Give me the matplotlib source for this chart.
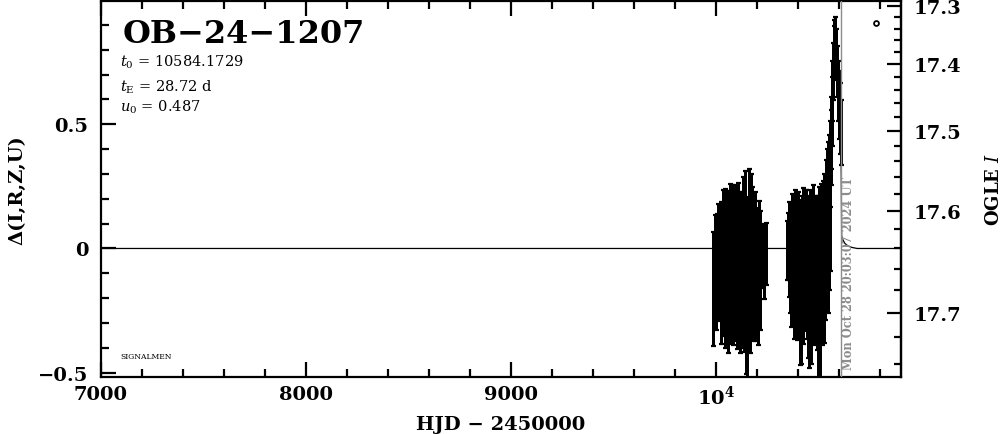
import numpy as np
import matplotlib
matplotlib.use("Agg")
import matplotlib.pyplot as plt
from matplotlib.ticker import MultipleLocator, FixedLocator, FixedFormatter

plt.rcParams['font.family'] = 'DejaVu Serif'
plt.rcParams['mathtext.fontset'] = 'dejavuserif'

# event info printed on the chart
EVENT = "OB\u221224\u22121207"
T0 = 10584.1729
TE = 28.72
U0 = 0.487
NOW_HJD = 10612.3
NOW_TEXT = "Mon Oct 28 20:03:07 2024 UT"

# baseline magnitude and blend fraction (from the two y scales)
BASE_MAG = 17.64
FS = 0.253

# OGLE I photometry, 2023 season
hjd_2023 = [9988.9, 9994.8, 10001.7, 10006.6, 10012.8, 10016.7, 10019.6, 10023.8, 10027.7, 10030.6,
            10033.8, 10036.7, 10040.6, 10043.8, 10046.7, 10049.6, 10052.8, 10055.7, 10058.6, 10061.8,
            10064.7, 10067.6, 10070.8, 10073.7, 10076.6, 10079.8, 10082.7, 10085.6, 10088.8, 10091.7,
            10094.6, 10097.8, 10100.7, 10103.6, 10106.8, 10109.7, 10112.6, 10115.8, 10118.7, 10121.6,
            10124.8, 10127.7, 10130.6, 10133.8, 10136.7, 10139.6, 10142.8, 10145.7, 10148.6, 10151.8,
            10154.7, 10157.6, 10160.8, 10163.7, 10166.6, 10169.8, 10172.7, 10175.6, 10178.8, 10181.7,
            10184.6, 10187.8, 10191.7, 10195.6, 10199.8, 10204.7, 10209.6, 10214.8, 10228.7, 10236.6,
            10246.8]
mag_2023 = [17.675, 17.652, 17.661, 17.645, 17.628, 17.657, 17.640, 17.672, 17.636, 17.651,
            17.626, 17.664, 17.647, 17.633, 17.671, 17.655, 17.629, 17.662, 17.644, 17.676,
            17.638, 17.659, 17.622, 17.667, 17.648, 17.631, 17.657, 17.673, 17.642, 17.625,
            17.664, 17.651, 17.637, 17.669, 17.646, 17.628, 17.660, 17.677, 17.641, 17.655,
            17.634, 17.666, 17.649, 17.620, 17.671, 17.653, 17.615, 17.683, 17.660, 17.687,
            17.645, 17.667, 17.612, 17.658, 17.674, 17.618, 17.661, 17.629, 17.652, 17.669,
            17.640, 17.656, 17.634, 17.663, 17.648, 17.671, 17.639, 17.657, 17.646, 17.652,
            17.644]
err_2023 = [0.052, 0.048, 0.053, 0.042, 0.036, 0.050, 0.045, 0.053, 0.047, 0.058,
            0.050, 0.055, 0.052, 0.059, 0.057, 0.054, 0.052, 0.060, 0.048, 0.056,
            0.061, 0.055, 0.054, 0.058, 0.051, 0.062, 0.057, 0.053, 0.063, 0.056,
            0.059, 0.055, 0.064, 0.060, 0.057, 0.061, 0.058, 0.055, 0.063, 0.059,
            0.056, 0.062, 0.058, 0.060, 0.060, 0.066, 0.063, 0.064, 0.070, 0.066,
            0.061, 0.056, 0.062, 0.063, 0.058, 0.062, 0.060, 0.057, 0.062, 0.054,
            0.058, 0.053, 0.056, 0.060, 0.052, 0.055, 0.051, 0.057, 0.032, 0.036,
            0.031]

# OGLE I photometry, 2024 season
hjd_2024 = [10349.5, 10352.4, 10355.6, 10358.5, 10361.4, 10364.6, 10367.5, 10370.4, 10373.6, 10376.5,
            10379.4, 10382.6, 10385.5, 10388.4, 10391.6, 10394.5, 10397.4, 10400.6, 10403.5, 10406.4,
            10409.6, 10412.5, 10415.4, 10418.6, 10421.5, 10424.4, 10427.6, 10430.5, 10433.4, 10436.6,
            10439.5, 10442.4, 10445.6, 10448.5, 10451.4, 10454.6, 10457.5, 10460.4, 10463.6, 10466.4,
            10469.5, 10472.4, 10475.6, 10478.5, 10481.4, 10484.6, 10487.5, 10490.4, 10493.6, 10496.5,
            10499.4, 10502.6, 10505.5, 10508.4, 10511.6, 10514.5, 10517.4, 10520.6, 10523.5, 10526.4,
            10529.6, 10532.5, 10535.4, 10538.6, 10541.5, 10544.4, 10546.6, 10549.5, 10551.4, 10553.6,
            10556.5, 10558.4, 10560.6, 10563.5, 10566.4, 10568.6, 10571.5, 10574.4, 10577.6, 10580.5,
            10584.4, 10590.6, 10596.5, 10601.4, 10605.6, 10609.5]
mag_2024 = [17.641, 17.636, 17.648, 17.630, 17.655, 17.639, 17.662, 17.627, 17.650, 17.643,
            17.668, 17.633, 17.657, 17.626, 17.646, 17.671, 17.638, 17.659, 17.631, 17.664,
            17.681, 17.644, 17.676, 17.637, 17.653, 17.628, 17.669, 17.645, 17.634, 17.661,
            17.650, 17.627, 17.666, 17.641, 17.674, 17.679, 17.632, 17.656, 17.645, 17.672,
            17.638, 17.660, 17.629, 17.651, 17.667, 17.636, 17.655, 17.643, 17.668, 17.686,
            17.640, 17.684, 17.633, 17.690, 17.654, 17.626, 17.662, 17.644, 17.625, 17.658,
            17.618, 17.640, 17.600, 17.622, 17.590, 17.610, 17.575, 17.640, 17.565, 17.615,
            17.540, 17.600, 17.520, 17.500, 17.470, 17.440, 17.410, 17.380, 17.370, 17.370,
            17.380, 17.410, 17.440, 17.460, 17.480, 17.500]
err_2024 = [0.030, 0.034, 0.038, 0.041, 0.045, 0.047, 0.050, 0.047, 0.052, 0.050,
            0.053, 0.049, 0.052, 0.051, 0.055, 0.051, 0.055, 0.057, 0.053, 0.055,
            0.060, 0.057, 0.064, 0.054, 0.058, 0.055, 0.056, 0.053, 0.058, 0.054,
            0.059, 0.052, 0.055, 0.058, 0.062, 0.064, 0.056, 0.057, 0.054, 0.068,
            0.057, 0.054, 0.059, 0.055, 0.059, 0.053, 0.057, 0.060, 0.062, 0.068,
            0.058, 0.072, 0.061, 0.066, 0.063, 0.058, 0.064, 0.062, 0.060, 0.066,
            0.062, 0.066, 0.062, 0.064, 0.066, 0.062, 0.060, 0.060, 0.060, 0.065,
            0.055, 0.062, 0.050, 0.050, 0.050, 0.045, 0.045, 0.045, 0.045, 0.050,
            0.040, 0.040, 0.045, 0.050, 0.050, 0.045]

# model light curve as seen on the chart
model_hjd = [7000, 10440, 10480, 10510, 10530, 10545, 10558, 10568, 10576, 10582,
             10590, 10600, 10609, 10612, 10614, 10620, 10630, 10645, 10665, 10690, 10900]
model_delta = [0.0, 0.0, 0.02, 0.06, 0.12, 0.22, 0.36, 0.55, 0.75, 0.86,
               0.80, 0.66, 0.52, 0.30, 0.05, 0.035, 0.02, 0.01, 0.004, 0.0, 0.0]


def mag_to_delta(m):
    m = np.asarray(m, dtype=float)
    with np.errstate(invalid='ignore', divide='ignore'):
        return 2.5 * np.log10(1 + (10 ** (-0.4 * (m - BASE_MAG)) - 1) / FS)


def delta_to_mag(d):
    d = np.asarray(d, dtype=float)
    with np.errstate(invalid='ignore', divide='ignore'):
        return BASE_MAG - 2.5 * np.log10(1 + FS * (10 ** (0.4 * d) - 1))


fig = plt.figure(figsize=(10.04, 4.35), dpi=100)
ax = fig.add_axes([0.1003, 0.1317, 0.7968, 0.8644])

# model and photometry
ax.plot(model_hjd, model_delta, color='k', lw=0.9, zorder=2)
for hjd, mag, err in [(hjd_2023, mag_2023, err_2023), (hjd_2024, mag_2024, err_2024)]:
    mag = np.array(mag)
    err = np.array(err)
    d = mag_to_delta(mag)
    lo = mag_to_delta(mag + err)
    hi = mag_to_delta(mag - err)
    _, caps, bars = ax.errorbar(hjd, d, yerr=[d - lo, hi - d], fmt='none', ecolor='k',
                                elinewidth=1.8, capsize=1.8, capthick=1.6, zorder=3)
    for b in bars:
        b.set_antialiased(False)

# current date marker
ax.axvline(NOW_HJD, color='#8c8c8c', lw=1.0, zorder=4)
ax.text(NOW_HJD + 4, -0.485, NOW_TEXT, rotation=90, ha='left', va='bottom',
        fontsize=8.3, fontweight='bold', color='#8c8c8c')

ax.set_xlim(7000, 10902)
ax.set_ylim(-0.516, 0.997)

ax.xaxis.set_major_locator(FixedLocator([7000, 8000, 9000, 10000]))
ax.xaxis.set_major_formatter(FixedFormatter(['7000', '8000', '9000', r'$\mathbf{10^4}$']))
ax.xaxis.set_minor_locator(MultipleLocator(200))
ax.yaxis.set_major_locator(MultipleLocator(0.5))
ax.yaxis.set_minor_locator(MultipleLocator(0.1))
ax.yaxis.set_major_formatter(plt.FuncFormatter(lambda v, p: '0' if abs(v) < 1e-9 else f'{v:.1f}'.replace('-', '\u2212')))

ax.tick_params(which='both', direction='in', top=True, right=False, width=1.6)
ax.tick_params(which='major', length=11)
ax.tick_params(which='minor', length=6)
ax.tick_params(axis='x', pad=6, labelsize=14)
ax.tick_params(axis='y', pad=9, labelsize=14)
for lab in ax.get_xticklabels() + ax.get_yticklabels():
    lab.set_fontweight('bold')
for sp in ax.spines.values():
    sp.set_linewidth(1.6)

# OGLE I magnitude scale on the right
ax2 = ax.secondary_yaxis('right', functions=(delta_to_mag, mag_to_delta))
ax2.yaxis.set_major_locator(FixedLocator([17.3, 17.4, 17.5, 17.6, 17.7]))
ax2.yaxis.set_minor_locator(FixedLocator(np.round(np.arange(17.30, 17.76, 0.02), 2)))
ax2.yaxis.set_major_formatter(FixedFormatter(['17.3', '17.4', '17.5', '17.6', '17.7']))
ax2.tick_params(which='both', direction='in', width=1.6, labelsize=14, pad=9)
ax2.tick_params(which='major', length=10)
ax2.tick_params(which='minor', length=5)
for lab in ax2.get_yticklabels():
    lab.set_fontweight('bold')
ax2.spines['right'].set_linewidth(1.6)
ax2.set_ylabel(r'OGLE $\mathit{I}$', fontsize=13, fontweight='bold', labelpad=17)

ax.set_xlabel('HJD \u2212 2450000', fontsize=14, fontweight='bold', labelpad=5)
ax.set_ylabel('\u0394(I,R,Z,U)', fontsize=14, fontweight='bold', labelpad=8)

# annotations
ax.text(0.027, 0.890, EVENT, transform=ax.transAxes, fontsize=23, fontweight='bold')
ax.text(0.024, 0.827, rf'$t_0$ = {T0:.4f}', transform=ax.transAxes, fontsize=10.5)
ax.text(0.024, 0.761, rf'$t_{{\rm E}}$ = {TE:.2f} d', transform=ax.transAxes, fontsize=10.5)
ax.text(0.024, 0.707, rf'$u_0$ = {U0:.3f}', transform=ax.transAxes, fontsize=10.5)
ax.text(0.024, 0.050, 'SIGNALMEN', transform=ax.transAxes, fontsize=5.5)
ax.plot([0.969], [0.941], 'o', transform=ax.transAxes, ms=3.5, mfc='white', mec='k', mew=1.3)

fig.savefig('out.png', dpi=100)
